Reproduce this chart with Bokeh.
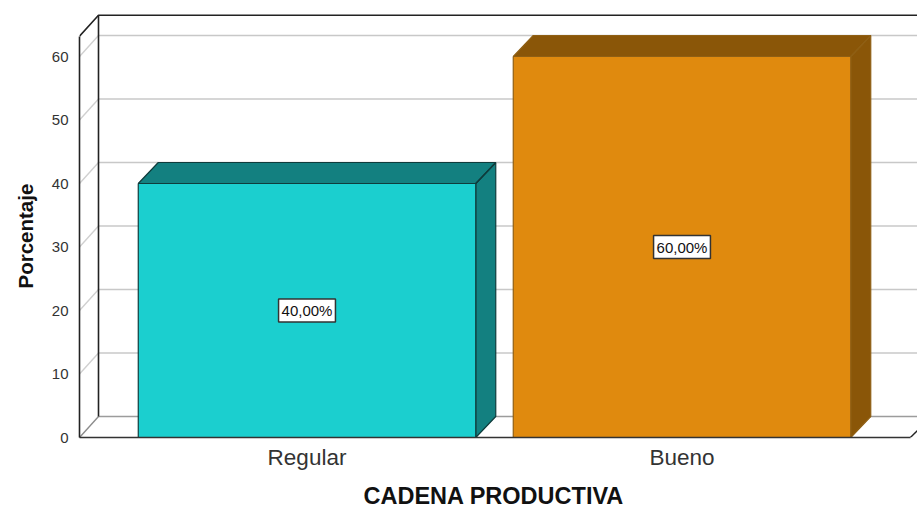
from bokeh.embed import file_html
from bokeh.resources import INLINE
from bokeh.plotting import figure
from bokeh.models import Range1d, FixedTicker, ColumnDataSource, Title
from bokeh.core.properties import value

categories = ["Regular", "Bueno"]
positions = [1, 2]
percent = [40.0, 60.0]
labels = ["40,00%", "60,00%"]
front_colors = ["#1bcfcf", "#e08a0e"]
side_colors = ["#138080", "#8a5608"]
edge_colors = ["#0f3c3c", "#8f5f14"]
y_ticks = [0, 10, 20, 30, 40, 50, 60]
y_title = "Porcentaje"
x_title = "CADENA PRODUCTIVA"

BAR_WIDTH = 0.9
DX = 20 / 375
DY = 21 / 6.35
Y_TOP = 63.2
X_LEFT = 0.3933
X_RIGHT = 2.628
X_FRONT_END = 2.609
FONT = "Liberation Sans"

p = figure(width=917, height=508, frame_width=838, frame_height=437,
           output_backend="svg", toolbar_location=None,
           x_range=Range1d(X_LEFT, X_RIGHT), y_range=Range1d(0, 68.82),
           min_border_left=79, min_border_right=0, min_border_top=0, min_border_bottom=71)
p.outline_line_color = None
p.grid.visible = False

# walls
x_back = X_LEFT + DX * 0.95
p.segment(x0=[x_back] * len(y_ticks), y0=[t + DY for t in y_ticks],
          x1=[X_RIGHT] * len(y_ticks), y1=[t + DY for t in y_ticks],
          line_color=["#9c9c9c"] + ["#c8c8c8"] * (len(y_ticks) - 1), line_width=1.6)
p.segment(x0=[X_LEFT] * len(y_ticks), y0=y_ticks,
          x1=[x_back] * len(y_ticks), y1=[t + DY for t in y_ticks],
          line_color=["#8c8c8c"] + ["#d0d0d0"] * (len(y_ticks) - 1), line_width=1.4)
p.line([x_back, x_back], [DY, Y_TOP + DY], line_color="#222222", line_width=1.6)
p.line([X_LEFT, x_back, X_RIGHT], [Y_TOP, Y_TOP + DY, Y_TOP + DY], line_color="#222222", line_width=1.6)
p.line([X_FRONT_END, X_RIGHT], [0, 7 / 6.35], line_color="#222222", line_width=1.4)

# bars
for c, v, fc, sc, ec in zip(positions, percent, front_colors, side_colors, edge_colors):
    x0, x1 = c - BAR_WIDTH / 2, c + BAR_WIDTH / 2
    p.patch([x1, x1 + DX, x1 + DX, x1], [0, DY, v + DY, v], fill_color=sc, line_color=ec, line_width=1.2)
    p.patch([x0, x0 + DX, x1 + DX, x1], [v, v + DY, v + DY, v], fill_color=sc, line_color=ec, line_width=1.2)
    p.line([x1, x1 + DX], [v, v + DY], line_color=ec, line_width=1.2)
    p.quad(left=x0, right=x1, bottom=0, top=v, fill_color=fc, line_color=ec, line_width=1.2)

src = ColumnDataSource(dict(x=positions, y=[v / 2 for v in percent], text=labels))
p.text(x="x", y="y", text="text", source=src, text_align="center", text_baseline="middle",
       text_font=value(FONT), text_font_size="15px", text_color="#111111",
       background_fill_color="white", border_line_color="#333333", border_line_width=1.5,
       padding=3)

# axes
ya = p.yaxis[0]
ya.ticker = FixedTicker(ticks=y_ticks)
ya.bounds = (0, Y_TOP)
ya.axis_line_color = "#222222"
ya.axis_line_width = 1.6
ya.major_tick_line_color = None
ya.minor_tick_line_color = None
ya.major_label_standoff = 5
ya.major_label_text_font = FONT
ya.major_label_text_font_size = "15px"
ya.major_label_text_color = "#333333"

xa = p.xaxis[0]
xa.ticker = FixedTicker(ticks=positions)
xa.major_label_overrides = dict(zip(positions, categories))
xa.bounds = (X_LEFT, X_FRONT_END)
xa.axis_line_color = "#333333"
xa.axis_line_width = 1.6
xa.major_tick_line_color = None
xa.minor_tick_line_color = None
xa.major_label_standoff = 1
xa.major_label_text_font = FONT
xa.major_label_text_font_size = "22.5px"
xa.major_label_text_color = "#333333"

p.add_layout(Title(text=x_title, align="left", offset=284, standoff=17,
                   text_font=FONT, text_font_style="bold", text_font_size="23.5px",
                   text_color="#111111"), "below")
p.add_layout(Title(text=y_title, align="left", offset=149, standoff=23,
                   text_font=FONT, text_font_style="bold", text_font_size="20.5px",
                   text_color="#111111"), "left")

open("out.html", "w").write(file_html(p, INLINE))
